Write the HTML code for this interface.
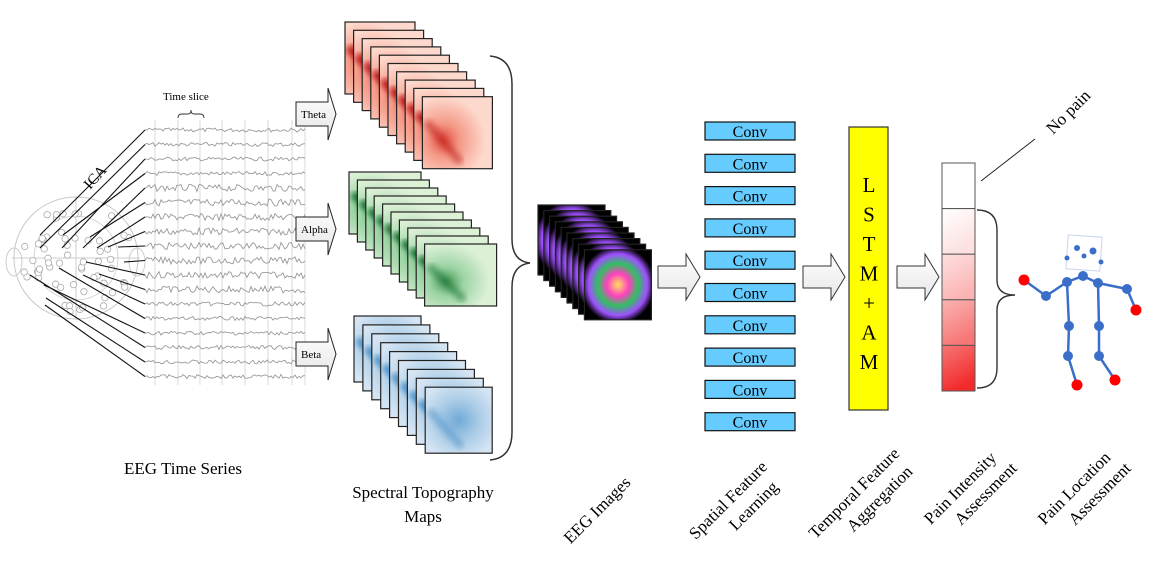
<!DOCTYPE html>
<html><head><meta charset="utf-8"><style>
html,body{margin:0;padding:0;background:#fff;width:1153px;height:562px;overflow:hidden}
svg{display:block}
text{font-family:"Liberation Serif",serif;fill:#000}
</style></head><body>
<svg id="s" width="1153" height="562" viewBox="0 0 1153 562" xmlns="http://www.w3.org/2000/svg">
<defs>
<radialGradient id="gr" cx="0.3" cy="0.6" r="0.6"><stop offset="0" stop-color="#e05040"/><stop offset="0.4" stop-color="#f59a88"/><stop offset="1" stop-color="#fdd8cc"/></radialGradient>
<radialGradient id="gg" cx="0.3" cy="0.6" r="0.6"><stop offset="0" stop-color="#4a9a5a"/><stop offset="0.4" stop-color="#9cd4a4"/><stop offset="1" stop-color="#dcf0d6"/></radialGradient>
<radialGradient id="gb" cx="0.5" cy="0.5" r="0.6"><stop offset="0" stop-color="#6faad6"/><stop offset="0.5" stop-color="#a9cbe6"/><stop offset="1" stop-color="#d4e4f3"/></radialGradient>
<radialGradient id="ge" cx="0.5" cy="0.5" r="0.55"><stop offset="0" stop-color="#ffe060"/><stop offset="0.3" stop-color="#ff40c0"/><stop offset="0.55" stop-color="#30c060"/><stop offset="0.8" stop-color="#a050ff"/><stop offset="1" stop-color="#000"/></radialGradient>
<linearGradient id="arr" x1="0" y1="0" x2="0" y2="1"><stop offset="0" stop-color="#fff"/><stop offset="1" stop-color="#e6e6e6"/></linearGradient>
<filter id="bl"><feGaussianBlur stdDeviation="3"/></filter>
</defs>
<g id="eeg"></g>
<g id="rest"></g>
</svg>
<script>
var s=document.getElementById('rest'),e=document.getElementById('eeg');
function add(p,h){p.insertAdjacentHTML('beforeend',h);}
var seed=7;function r(){seed=(seed*9301+49297)%233280;return seed/233280;}
[155,178,200,222,245,268,292,305].forEach(function(x){add(e,'<line x1="'+x+'" y1="120" x2="'+x+'" y2="385" stroke="#d8d8d8" stroke-width="1"/>');});
add(e,'<ellipse cx="76" cy="258" rx="62" ry="61" fill="none" stroke="#c8c8c8"/><ellipse cx="76" cy="258" rx="42" ry="42" fill="none" stroke="#d4d4d4"/><line x1="12" y1="258" x2="140" y2="258" stroke="#ccc"/><line x1="76" y1="197" x2="76" y2="320" stroke="#ccc"/><ellipse cx="14" cy="262" rx="8" ry="14" fill="none" stroke="#ccc"/><ellipse cx="137" cy="262" rx="8" ry="14" fill="none" stroke="#ccc"/>');
for(var i=0;i<60;i++){var a=r()*6.28,d=Math.sqrt(r())*55;add(e,'<circle cx="'+(76+Math.cos(a)*d*1.05)+'" cy="'+(258+Math.sin(a)*d)+'" r="3.2" fill="#fff" stroke="#aaa" stroke-width="0.8"/>');}
var ends=[[40,235],[40,248],[62,248],[63,235],[83,248],[90,237],[97,248],[108,247],[118,247],[124,262],[86,262],[99,274],[83,275],[59,268],[44,285],[30,275],[46,298],[45,305]];
for(var k=0;k<18;k++){var y=130+k*14.5;var d='M145 '+y.toFixed(1);for(var x=147;x<=306;x+=2){d+=' L'+x+' '+(y+(r()-0.5)*(k>3&&k<12?7:4)).toFixed(1);}
add(e,'<path d="'+d+'" fill="none" stroke="#9a9a9a" stroke-width="0.9"/>');
add(e,'<line x1="145" y1="'+y+'" x2="'+ends[k][0]+'" y2="'+ends[k][1]+'" stroke="#111" stroke-width="1.1"/>');}
add(e,'<text x="163" y="100" font-size="11">Time slice</text><path d="M178 118 q0-4 4-4 h6 q3 0 3-4 q0 4 3 4 h6 q4 0 4 4" fill="none" stroke="#333" stroke-width="0.9"/>');
add(e,'<text transform="translate(90,190) rotate(-48)" font-size="15">ICA</text>');
[['Theta',114],['Alpha',229],['Beta',354]].forEach(function(t){var y=t[1];add(s,'<path d="M296 '+(y-12)+' h32 v-14 l8 26 l-8 26 v-14 h-32 z" fill="url(#arr)" stroke="#222" stroke-width="1"/><text x="301" y="'+(y+4)+'" font-size="11">'+t[0]+'</text>');});
function stack(x0,y0,n,dx,dy,w,h,g,sc){for(var i=0;i<n;i++){var x=x0+i*dx,y=y0+i*dy;add(s,'<rect x="'+x+'" y="'+y+'" width="'+w+'" height="'+h+'" fill="url(#'+g+')" stroke="#222" stroke-width="1.2"/>');
if(sc){var p=i==n-1?0.5:1;add(s,'<line x1="'+(x+4)+'" y1="'+(y+h*0.35)+'" x2="'+(x+w*0.55)+'" y2="'+(y+h-6)+'" stroke="'+sc+'" stroke-width="8" opacity="'+p+'" filter="url(#bl)"/>');}}}
stack(345,22,10,8.6,8.3,70,72,'gr','#b80a10');
stack(349,172,10,8.4,8,72,62,'gg','#0f6a2a');
stack(354,316,9,8.9,8.9,67,66,'gb','#4a90c8');
stack(538,205,9,5.8,5.6,67,70,'ge');
add(s,'<path d="M490 56 q22 2 22 28 v155 q0 22 18 24 q-18 2 -18 24 v145 q0 26 -22 28" fill="none" stroke="#333" stroke-width="1.5"/>');
add(s,'<text x="423" y="498" font-size="17" text-anchor="middle">Spectral Topography</text><text x="423" y="522" font-size="17" text-anchor="middle">Maps</text><text x="183" y="474" font-size="17" text-anchor="middle">EEG Time Series</text>');
[658,803,897].forEach(function(x){add(s,'<path d="M'+x+' 266 h28 v-12 l14 23 l-14 23 v-12 h-28 z" fill="url(#arr)" stroke="#333" stroke-width="1"/>');});
for(var i=0;i<10;i++){var y=122+i*32.3;add(s,'<rect x="705" y="'+y+'" width="90" height="18" fill="#66ccff" stroke="#111" stroke-width="1.2"/><text x="750" y="'+(y+15)+'" font-size="16" text-anchor="middle">Conv</text>');}
add(s,'<rect x="849" y="127" width="39" height="283" fill="#ffff00" stroke="#333" stroke-width="1.2"/>');
['L','S','T','M','+','A','M'].forEach(function(c,i){add(s,'<text x="869" y="'+(192+i*29.5)+'" font-size="21" text-anchor="middle">'+c+'</text>');});
var cols=['#fff','#fde0e0','#fbb4b4','#f77676','#f22a2a'];
for(var i=0;i<5;i++){add(s,'<defs><linearGradient id="b'+i+'" x1="0" y1="0" x2="0.4" y2="1"><stop offset="0" stop-color="'+(i?cols[i-1]:'#fff')+'"/><stop offset="1" stop-color="'+cols[i]+'"/></linearGradient></defs><rect x="942" y="'+(163+i*45.6)+'" width="33" height="45.6" fill="url(#b'+i+')" stroke="#555" stroke-width="1"/>');}
add(s,'<line x1="981" y1="181" x2="1035" y2="139" stroke="#222" stroke-width="1"/><text transform="translate(1053,135) rotate(-45)" font-size="17">No pain</text>');
add(s,'<path d="M977 210 q20 0 20 20 v50 q0 15 18 15 q-18 0 -18 15 v58 q0 20 -20 20" fill="none" stroke="#333" stroke-width="1.4"/>');
add(s,'<rect x="1067" y="236" width="34" height="34" fill="none" stroke="#c8d4f0" transform="rotate(4 1084 253)"/>');
var B='#3a6ec8';
add(s,'<polyline points="1024,280 1046,296 1067,282 1083,276 1098,283 1127,289 1136,310" fill="none" stroke="'+B+'" stroke-width="2.5"/><polyline points="1067,282 1069,326 1068,356 1077,385" fill="none" stroke="'+B+'" stroke-width="2.5"/><polyline points="1098,283 1099,326 1099,356 1115,380" fill="none" stroke="'+B+'" stroke-width="2.5"/>');
[[1067,282,5],[1083,276,5],[1098,283,5],[1046,296,5],[1127,289,5],[1069,326,5],[1099,326,5],[1068,356,5],[1099,356,5],[1077,248,3],[1093,251,3.5],[1084,256,2.5],[1067,258,2.5],[1101,262,2.5]].forEach(function(c){add(s,'<circle cx="'+c[0]+'" cy="'+c[1]+'" r="'+c[2]+'" fill="'+B+'"/>');});
[[1024,280],[1136,310],[1077,385],[1115,380]].forEach(function(c){add(s,'<circle cx="'+c[0]+'" cy="'+c[1]+'" r="5.5" fill="#f00"/>');});
function lab(x,y,a,b){var h='<text transform="translate('+x+','+y+') rotate(-45)" font-size="17" text-anchor="middle"><tspan x="0" y="0">'+a+'</tspan>';if(b)h+='<tspan x="14" y="22">'+b+'</tspan>';add(s,h+'</text>');}
lab(601,514,'EEG Images');
lab(732,504,'Spatial Feature','Learning');
lab(858,497,'Temporal Feature','Aggregation');
lab(964,492,'Pain Intensity','Assessment');
lab(1078,492,'Pain Location','Assessment');
</script>
</body></html>
